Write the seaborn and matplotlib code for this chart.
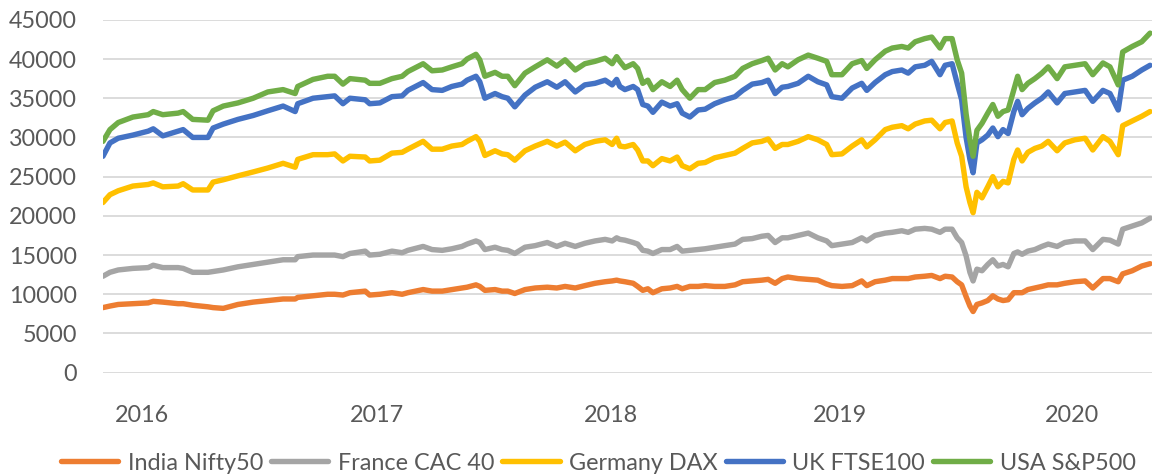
import matplotlib
matplotlib.use('Agg')
import matplotlib.pyplot as plt
from matplotlib.lines import Line2D
import numpy as np
import pandas as pd
import seaborn as sns

# Stacked index levels as drawn in the chart (thousands), Jul 2016 - Dec 2020
start = pd.Timestamp('2016-07-01')
day_offset = [0, 11, 24, 47, 71, 79, 94, 118, 126, 141, 165, 173, 189, 212, 236, 259, 283, 302, 306, 330, 353, 364, 377, 388, 412,
              419, 435, 454, 470, 479, 503, 517, 533, 548, 564, 572, 586, 592, 600, 616, 627, 636, 647, 663, 679, 698, 713, 726, 742, 757, 773, 789, 800, 807,
              812, 820, 833, 840, 848, 856, 864, 878, 891, 902, 910, 922, 935, 946, 961, 977, 993, 1005, 1020, 1035, 1045, 1056, 1067, 1076, 1092, 1108, 1123, 1137, 1145, 1161, 1177, 1192, 1200, 1213, 1229,
              1240, 1255, 1265, 1276, 1291, 1302, 1315, 1323, 1334, 1342, 1349, 1356, 1362, 1367, 1373, 1381, 1390, 1398, 1406, 1414, 1422, 1431, 1437, 1444, 1453, 1464, 1475, 1485, 1499, 1511, 1527, 1543, 1555, 1571, 1582, 1595, 1602, 1617, 1632, 1645]

india = [8.3, 8.5, 8.7, 8.8, 8.9, 9.1, 9.0, 8.8, 8.8, 8.6, 8.4, 8.3, 8.2, 8.7, 9.0, 9.2, 9.4, 9.4, 9.6, 9.8, 10.0, 10.0, 9.9, 10.2, 10.4,
         9.9, 10.0, 10.2, 10.0, 10.2, 10.6, 10.4, 10.4, 10.6, 10.8, 10.9, 11.2, 11.0, 10.5, 10.6, 10.4, 10.4, 10.1, 10.6, 10.8, 10.9, 10.8, 11.0, 10.8, 11.1, 11.4, 11.6, 11.7, 11.8,
         11.7, 11.6, 11.4, 11.0, 10.5, 10.7, 10.2, 10.7, 10.8, 11.0, 10.7, 11.0, 11.0, 11.1, 11.0, 11.0, 11.2, 11.6, 11.7, 11.8, 11.9, 11.4, 12.0, 12.2, 12.0, 11.9, 11.8, 11.3, 11.1, 11.0, 11.1, 11.7, 11.1, 11.6, 11.8,
         12.0, 12.0, 12.0, 12.2, 12.3, 12.4, 12.0, 12.3, 12.2, 11.6, 11.2, 9.7, 8.5, 7.8, 8.7, 8.9, 9.2, 9.8, 9.4, 9.2, 9.3, 10.2, 10.2, 10.2, 10.6, 10.8, 11.0, 11.2, 11.2, 11.4, 11.6, 11.7, 10.8, 12.0, 12.0, 11.6, 12.6, 13.0, 13.6, 13.9]

france = [12.3, 12.8, 13.1, 13.3, 13.4, 13.7, 13.4, 13.4, 13.3, 12.8, 12.8, 12.9, 13.1, 13.5, 13.8, 14.1, 14.4, 14.4, 14.8, 15.0, 15.0, 15.0, 14.8, 15.2, 15.5,
          15.0, 15.1, 15.5, 15.3, 15.6, 16.1, 15.7, 15.6, 15.8, 16.1, 16.4, 16.8, 16.6, 15.7, 16.0, 15.7, 15.6, 15.2, 16.0, 16.2, 16.6, 16.1, 16.5, 16.1, 16.5, 16.8, 17.0, 16.8, 17.2,
          17.0, 16.9, 16.6, 16.4, 15.6, 15.5, 15.2, 15.7, 15.7, 16.1, 15.5, 15.6, 15.7, 15.8, 16.0, 16.2, 16.4, 17.0, 17.1, 17.4, 17.5, 16.6, 17.2, 17.2, 17.5, 17.8, 17.2, 16.8, 16.2, 16.4, 16.6, 17.2, 16.8, 17.5, 17.8,
          17.9, 18.1, 17.9, 18.3, 18.4, 18.3, 17.9, 18.3, 18.3, 17.2, 16.6, 14.9, 12.8, 11.7, 13.2, 13.0, 13.8, 14.4, 13.6, 13.8, 13.5, 15.2, 15.4, 15.1, 15.5, 15.7, 16.1, 16.4, 16.1, 16.6, 16.8, 16.8, 15.7, 17.0, 16.9, 16.4, 18.3, 18.7, 19.1, 19.7]

germany = [21.7, 22.7, 23.2, 23.8, 24.0, 24.2, 23.7, 23.8, 24.1, 23.3, 23.3, 24.3, 24.6, 25.1, 25.6, 26.1, 26.7, 26.2, 27.2, 27.8, 27.8, 27.9, 27.0, 27.6, 27.5,
           27.0, 27.1, 28.0, 28.1, 28.5, 29.5, 28.5, 28.5, 28.9, 29.1, 29.5, 30.1, 29.5, 27.7, 28.3, 27.9, 27.8, 27.1, 28.3, 28.9, 29.5, 28.9, 29.4, 28.3, 29.1, 29.5, 29.7, 29.1, 29.9,
           28.9, 28.8, 29.1, 28.4, 27.0, 27.0, 26.4, 27.3, 27.0, 27.5, 26.4, 26.0, 26.7, 26.8, 27.4, 27.7, 28.0, 28.6, 29.3, 29.5, 29.8, 28.6, 29.1, 29.1, 29.5, 30.1, 29.7, 29.1, 27.8, 27.9, 28.9, 29.7, 28.8, 29.7, 31.0,
           31.3, 31.5, 31.1, 31.7, 32.1, 32.2, 31.1, 31.9, 32.1, 29.3, 27.6, 23.7, 21.7, 20.4, 23.0, 22.3, 23.7, 25.0, 23.7, 24.4, 24.2, 27.2, 28.4, 27.0, 28.1, 28.6, 28.9, 29.5, 28.3, 29.3, 29.7, 29.9, 28.4, 30.1, 29.5, 27.8, 31.5, 32.1, 32.7, 33.3]

uk = [27.6, 29.3, 29.9, 30.3, 30.8, 31.1, 30.2, 30.8, 31.0, 30.0, 30.0, 31.2, 31.7, 32.3, 32.8, 33.4, 34.0, 33.3, 34.3, 35.0, 35.2, 35.3, 34.3, 35.0, 34.8,
      34.3, 34.4, 35.2, 35.3, 36.0, 37.0, 36.1, 36.0, 36.5, 36.8, 37.3, 37.8, 37.1, 35.0, 35.6, 35.2, 35.0, 33.9, 35.4, 36.4, 37.1, 36.4, 37.1, 35.8, 36.7, 36.9, 37.3, 36.7, 37.4,
      36.5, 36.1, 36.5, 36.1, 34.2, 34.0, 33.2, 34.5, 34.0, 34.3, 33.1, 32.6, 33.5, 33.6, 34.3, 34.8, 35.2, 36.0, 36.8, 37.0, 37.3, 35.6, 36.4, 36.5, 36.9, 37.8, 37.1, 36.7, 35.2, 35.0, 36.3, 36.9, 36.0, 37.0, 38.0,
      38.4, 38.6, 38.2, 39.0, 39.2, 39.7, 38.0, 39.2, 39.4, 36.9, 34.8, 30.0, 27.2, 25.5, 29.3, 29.7, 30.3, 31.2, 30.1, 31.0, 30.5, 33.3, 34.6, 32.9, 33.7, 34.4, 35.0, 35.8, 34.4, 35.6, 35.8, 36.0, 34.6, 36.0, 35.6, 33.5, 37.3, 37.8, 38.6, 39.2]

usa = [29.5, 31.0, 31.9, 32.6, 32.9, 33.3, 32.9, 33.1, 33.3, 32.3, 32.2, 33.4, 34.0, 34.4, 35.0, 35.8, 36.1, 35.6, 36.5, 37.4, 37.8, 37.8, 36.8, 37.5, 37.3,
       36.9, 36.9, 37.5, 37.8, 38.4, 39.4, 38.5, 38.6, 39.0, 39.4, 40.0, 40.6, 39.9, 37.8, 38.3, 37.8, 37.8, 36.6, 38.2, 39.0, 39.9, 39.1, 39.9, 38.6, 39.4, 39.7, 40.1, 39.4, 40.3,
       39.7, 38.9, 39.4, 38.8, 36.9, 37.3, 36.1, 37.1, 36.5, 37.3, 36.1, 35.0, 36.1, 36.1, 37.0, 37.3, 37.8, 38.8, 39.4, 39.8, 40.1, 38.6, 39.4, 39.0, 39.9, 40.5, 40.1, 39.7, 38.0, 38.0, 39.4, 39.8, 38.8, 39.9, 41.0,
       41.4, 41.6, 41.4, 42.2, 42.6, 42.8, 41.4, 42.6, 42.6, 39.9, 38.2, 33.0, 29.7, 27.6, 30.9, 31.8, 33.1, 34.2, 32.7, 33.3, 33.5, 36.1, 37.8, 36.1, 36.9, 37.5, 38.2, 39.0, 37.5, 39.0, 39.2, 39.4, 38.0, 39.5, 39.0, 36.7, 40.9, 41.6, 42.2, 43.3]

names = ['India Nifty50', 'France CAC 40', 'Germany DAX', 'UK FTSE100', 'USA S&P500']
colors = ['#ED7D31', '#A5A5A5', '#FFC000', '#4472C4', '#70AD47']
year_labels = ['2016', '2017', '2018', '2019', '2020']
year_label_dates = ['2016-08-31', '2017-09-04', '2018-09-07', '2019-09-02', '2020-08-31']

dates = start + pd.to_timedelta(day_offset, unit='D')
levels = [india, france, germany, uk, usa]
df = pd.DataFrame({
    'date': np.tile(dates, len(names)),
    'level': np.concatenate(levels) * 1000,
    'index': np.repeat(names, len(dates)),
})

sns.set_style('white')
plt.rcParams['font.family'] = ['Lato', 'DejaVu Sans']
text_col = '#595959'

fig = plt.figure(figsize=(11.53, 4.75), dpi=100)
ax = fig.add_axes([0.0893, 0.2154, 0.9098, 0.7429])

sns.lineplot(data=df, x='date', y='level', hue='index', hue_order=names,
             palette=colors, linewidth=3.9, estimator=None, sort=False,
             legend=False, ax=ax)
for line in ax.get_lines():
    line.set_solid_joinstyle('round')
    line.set_solid_capstyle('round')

ax.set_ylim(0, 45000)
ax.set_yticks(range(0, 45001, 5000))
ax.set_xlim(start, start + pd.Timedelta(days=1648))
ax.set_xticks(pd.to_datetime(year_label_dates))
ax.set_xticklabels(year_labels)
ax.set_xlabel('')
ax.set_ylabel('')
ax.grid(axis='y', color='#D9D9D9', linewidth=1.3)
ax.grid(axis='x', visible=False)
ax.set_axisbelow(True)
for s in ax.spines.values():
    s.set_visible(False)
ax.tick_params(axis='y', length=0, labelsize=16.8, colors=text_col, pad=18.5)
ax.tick_params(axis='x', length=0, labelsize=16.8, colors=text_col, pad=23)

handles = [Line2D([0], [0], color=c, lw=3.9, solid_capstyle='round') for c in colors]
fig.legend(handles, names, loc='center', bbox_to_anchor=(0.519, 0.025), ncol=5,
           frameon=False, fontsize=16.8, handlelength=2.45, handletextpad=0.4,
           columnspacing=0.35, labelcolor=text_col, borderaxespad=0, borderpad=0)

fig.savefig('out.png', dpi=100)
